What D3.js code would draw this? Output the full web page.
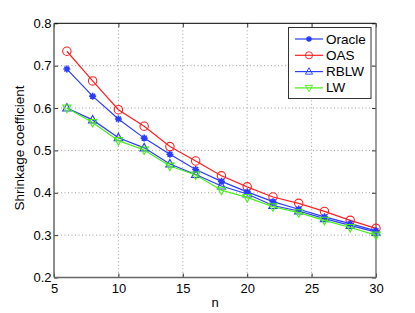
<!DOCTYPE html>
<html><head><meta charset="utf-8">
<script src="https://cdn.jsdelivr.net/npm/d3@7"></script>
<style>body{margin:0;background:#fff}svg{display:block;font-family:"Liberation Sans",Arial,sans-serif}</style>
</head><body><svg id="c" width="415" height="313"></svg>
<script>
const nVals = [6,8,10,12,14,16,18,20,22,24,26,28,30];
const oracle = [0.692,0.628,0.574,0.529,0.491,0.455,0.427,0.402,0.379,0.361,0.343,0.327,0.310];
const oas    = [0.734,0.664,0.596,0.557,0.509,0.475,0.440,0.414,0.390,0.375,0.356,0.335,0.316];
const rblw   = [0.600,0.572,0.530,0.506,0.468,0.443,0.416,0.397,0.370,0.357,0.339,0.323,0.307];
const lw     = [0.600,0.566,0.523,0.501,0.463,0.442,0.406,0.389,0.367,0.353,0.335,0.318,0.300];
const xTicks = [5,10,15,20,25,30];
const yTicks = [0.2,0.3,0.4,0.5,0.6,0.7,0.8];
const seriesNames = ["Oracle","OAS","RBLW","LW"];

const svg = d3.select("#c");
const L=54, R=376, T=23.3, B=277.5;
const x = d3.scaleLinear().domain([5,30]).range([L,R]);
const y = d3.scaleLinear().domain([0.2,0.8]).range([B,T]);

// grid
const g = svg.append("g");
g.selectAll(".gx").data(xTicks.slice(1,-1)).join("line")
  .attr("x1",d=>x(d)).attr("x2",d=>x(d)).attr("y1",T).attr("y2",B)
  .attr("stroke","#888").attr("stroke-width",0.8).attr("stroke-dasharray","1,2.5");
g.selectAll(".gy").data(yTicks.slice(1,-1)).join("line")
  .attr("y1",d=>y(d)).attr("y2",d=>y(d)).attr("x1",L).attr("x2",R)
  .attr("stroke","#888").attr("stroke-width",0.8).attr("stroke-dasharray","1,2.5");

// axes
const xAxis = d3.axisBottom(x).tickValues(xTicks).tickSizeInner(-4).tickSizeOuter(0).tickPadding(6);
const yAxis = d3.axisLeft(y).tickValues(yTicks).tickSizeInner(-4).tickSizeOuter(0).tickPadding(2.5).tickFormat(d3.format(".1f"));
const ax = svg.append("g").attr("transform",`translate(0,${B})`).call(xAxis);
const ay = svg.append("g").attr("transform",`translate(${L},0)`).call(yAxis);
[ax,ay].forEach(a=>{a.select(".domain").remove();a.selectAll("text").attr("font-size",13).attr("fill","#000").attr("font-family","Liberation Sans, Arial, sans-serif");a.selectAll("line").attr("stroke","#333");});
// top/right ticks
svg.append("g").attr("transform",`translate(0,${T})`).call(d3.axisTop(x).tickValues(xTicks).tickSizeInner(-4).tickSizeOuter(0).tickFormat(""))
  .call(a=>{a.select(".domain").remove();a.selectAll("line").attr("stroke","#333");});
svg.append("g").attr("transform",`translate(${R},0)`).call(d3.axisRight(y).tickValues(yTicks).tickSizeInner(-4).tickSizeOuter(0).tickFormat(""))
  .call(a=>{a.select(".domain").remove();a.selectAll("line").attr("stroke","#333");});

// box
svg.append("line").attr("x1",L).attr("x2",R).attr("y1",T).attr("y2",T).attr("stroke","#000").attr("stroke-width",1);
svg.append("line").attr("x1",L).attr("x2",R).attr("y1",B).attr("y2",B).attr("stroke","#666").attr("stroke-width",1.5);
svg.append("line").attr("x1",L).attr("x2",L).attr("y1",T).attr("y2",B).attr("stroke","#666").attr("stroke-width",1.5);
svg.append("line").attr("x1",R).attr("x2",R).attr("y1",T).attr("y2",B).attr("stroke","#666").attr("stroke-width",1.3);

// markers
function marker(sel, type, color){
  if(type==="star"){
    const p=d3.path(); const r=3.5;
    for(let i=0;i<4;i++){const a=i*Math.PI/4;p.moveTo(-r*Math.cos(a),-r*Math.sin(a));p.lineTo(r*Math.cos(a),r*Math.sin(a));}
    sel.append("path").attr("d",p.toString()).attr("stroke",color).attr("stroke-width",1.6).attr("fill","none");
    sel.append("circle").attr("r",1.8).attr("fill",color);
  } else if(type==="circle"){
    sel.append("circle").attr("r",4.2).attr("fill","none").attr("stroke",color).attr("stroke-width",1.1);
  } else if(type==="up"){
    sel.append("path").attr("d","M0,-4.5L4.2,3L-4.2,3Z").attr("fill","none").attr("stroke",color).attr("stroke-width",1.1);
  } else if(type==="down"){
    sel.append("path").attr("d","M0,4.5L4.2,-3L-4.2,-3Z").attr("fill","none").attr("stroke",color).attr("stroke-width",1.1);
  }
}
const series = [
  {name:seriesNames[0], vals:oracle, color:"#2a3cff", m:"star"},
  {name:seriesNames[1], vals:oas, color:"#ff2020", m:"circle"},
  {name:seriesNames[2], vals:rblw, color:"#2a3cff", m:"up"},
  {name:seriesNames[3], vals:lw, color:"#44ee11", m:"down"}
];
const line = d3.line().x((d,i)=>x(nVals[i])).y(d=>y(d));
[series[1],series[0],series[2],series[3]].forEach(s=>{
  const gs=svg.append("g");
  gs.append("path").datum(s.vals).attr("d",line).attr("fill","none").attr("stroke",s.color).attr("stroke-width",1.2);
  s.vals.forEach((v,i)=>{marker(gs.append("g").attr("transform",`translate(${x(nVals[i])},${y(v)})`),s.m,s.color);});
});

// legend
const lg = svg.append("g");
lg.append("rect").attr("x",288.5).attr("y",27.5).attr("width",82.5).attr("height",71).attr("fill","#fff").attr("stroke","#333").attr("stroke-width",1);
series.forEach((s,i)=>{
  const yy = 39 + i*16.3;
  lg.append("line").attr("x1",295).attr("x2",323).attr("y1",yy).attr("y2",yy).attr("stroke",s.color).attr("stroke-width",1.2);
  marker(lg.append("g").attr("transform",`translate(309,${yy}) scale(0.85)`),s.m,s.color);
  lg.append("text").attr("x",326).attr("y",yy+4.5).attr("font-size",13.5).text(s.name);
});

// labels
svg.append("text").attr("x",215).attr("y",307).attr("text-anchor","middle").attr("font-size",13).text("n");
svg.append("text").attr("transform",`translate(24,148) rotate(-90)`).attr("text-anchor","middle").attr("font-size",13.5).text("Shrinkage coefficient");
</script></body></html>
